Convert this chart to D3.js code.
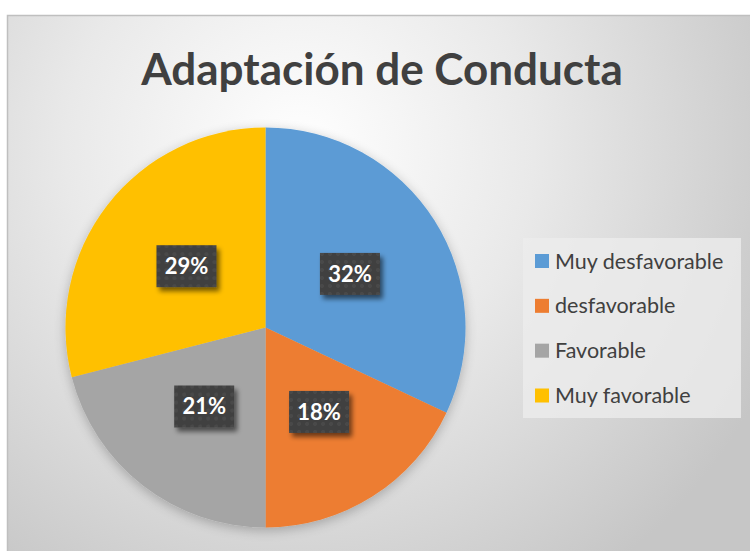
<!DOCTYPE html>
<html>
<head>
<meta charset="utf-8">
<script src="https://cdn.jsdelivr.net/npm/d3@7"></script>
<style>
  body { margin: 0; background: #fff; }
  svg { display: block; }
</style>
</head>
<body>
<div id="chart"></div>
<script>
// data
const titleText = "Adaptación de Conducta";
const categories = ["Muy desfavorable", "desfavorable", "Favorable", "Muy favorable"];
const values = [32, 18, 21, 29];
const colors = ["#5b9bd5", "#ed7d31", "#a5a5a5", "#ffc000"];

const width = 750;
const height = 551;

const svg = d3
  .select("#chart")
  .append("svg")
  .attr("width", width)
  .attr("height", height);

const defs = svg.append("defs");

// background gradient
const bg = defs
  .append("radialGradient")
  .attr("id", "bgGrad")
  .attr("gradientUnits", "userSpaceOnUse")
  .attr("cx", 300)
  .attr("cy", 150)
  .attr("r", 520);
bg.append("stop").attr("offset", "0%").attr("stop-color", "#ffffff");
bg.append("stop").attr("offset", "45%").attr("stop-color", "#e9e9e9");
bg.append("stop").attr("offset", "100%").attr("stop-color", "#c6c6c6");

// soft shadow for pie and label boxes
const shadow = defs.append("filter").attr("id", "pieShadow")
  .attr("x", "-20%").attr("y", "-20%").attr("width", "140%").attr("height", "140%");
shadow.append("feGaussianBlur").attr("in", "SourceAlpha").attr("stdDeviation", 6);
shadow.append("feOffset").attr("dx", 0).attr("dy", 3).attr("result", "b");
shadow.append("feComponentTransfer").append("feFuncA").attr("type", "linear").attr("slope", 0.25);
const m = shadow.append("feMerge");
m.append("feMergeNode");
m.append("feMergeNode").attr("in", "SourceGraphic");

const boxShadow = defs.append("filter").attr("id", "boxShadow")
  .attr("x", "-30%").attr("y", "-30%").attr("width", "160%").attr("height", "160%");
boxShadow.append("feGaussianBlur").attr("in", "SourceAlpha").attr("stdDeviation", 2.5);
boxShadow.append("feOffset").attr("dx", 3).attr("dy", 4).attr("result", "b");
boxShadow.append("feComponentTransfer").append("feFuncA").attr("type", "linear").attr("slope", 0.55);
const m2 = boxShadow.append("feMerge");
m2.append("feMergeNode");
m2.append("feMergeNode").attr("in", "SourceGraphic");

// dotted texture for label boxes
const pat = defs.append("pattern")
  .attr("id", "dots")
  .attr("patternUnits", "userSpaceOnUse")
  .attr("width", 8)
  .attr("height", 8);
pat.append("rect").attr("width", 8).attr("height", 8).attr("fill", "#3f3f3f");
pat.append("circle").attr("cx", 4).attr("cy", 4).attr("r", 2).attr("fill", "#4a4a4a");

// chart area
svg.append("rect")
  .attr("x", 7.5)
  .attr("y", 15.5)
  .attr("width", width)
  .attr("height", height)
  .attr("fill", "url(#bgGrad)")
  .attr("stroke", "#bfbfbf")
  .attr("stroke-width", 1.5);

// title
svg.append("text")
  .attr("x", 382)
  .attr("y", 85)
  .attr("text-anchor", "middle")
  .style("font-family", "Lato, 'Open Sans', sans-serif")
  .style("font-weight", "bold")
  .style("font-size", "44px")
  .attr("fill", "#404040")
  .text(titleText);

// pie
const cx = 265.5, cy = 327.5, radius = 200;

const pie = d3.pie().sort(null).value(d => d);
const arcs = pie(values);

const arc = d3.arc().innerRadius(0).outerRadius(radius);
const labelArc = d3.arc().innerRadius(radius / 2).outerRadius(radius / 2);

const g = svg.append("g").attr("transform", `translate(${cx},${cy})`);

g.append("g")
  .attr("filter", "url(#pieShadow)")
  .selectAll("path")
  .data(arcs)
  .enter()
  .append("path")
  .attr("d", arc)
  .attr("fill", (d, i) => colors[i]);

// data labels
const total = d3.sum(values);
const labels = g.selectAll("g.lbl")
  .data(arcs)
  .enter()
  .append("g")
  .attr("class", "lbl")
  .attr("transform", d => `translate(${labelArc.centroid(d)})`);

const boxW = 60, boxH = 42;
labels.append("rect")
  .attr("x", -boxW / 2)
  .attr("y", -boxH / 2)
  .attr("width", boxW)
  .attr("height", boxH)
  .attr("fill", "url(#dots)")
  .attr("filter", "url(#boxShadow)");

labels.append("text")
  .attr("text-anchor", "middle")
  .attr("dy", "0.36em")
  .style("font-family", "Lato, 'Open Sans', sans-serif")
  .style("font-weight", "bold")
  .style("font-size", "22px")
  .attr("fill", "#ffffff")
  .text(d => Math.round(d.value / total * 100) + "%");

// legend
const legend = svg.append("g");
legend.append("rect")
  .attr("x", 523)
  .attr("y", 238)
  .attr("width", 218)
  .attr("height", 180)
  .attr("fill", "#ececec")
  .attr("opacity", 0.8);

const legendY = d3.scalePoint()
  .domain(categories)
  .range([261, 395.5]);

const items = legend.selectAll("g.item")
  .data(categories)
  .enter()
  .append("g")
  .attr("class", "item")
  .attr("transform", d => `translate(535,${legendY(d)})`);

items.append("rect")
  .attr("x", 0)
  .attr("y", -7)
  .attr("width", 14)
  .attr("height", 14)
  .attr("fill", (d, i) => colors[i]);

items.append("text")
  .attr("x", 20)
  .attr("dy", "0.35em")
  .style("font-family", "Lato, 'Open Sans', sans-serif")
  .style("font-size", "21.5px")
  .attr("fill", "#404040")
  .text(d => d);
</script>
</body>
</html>
